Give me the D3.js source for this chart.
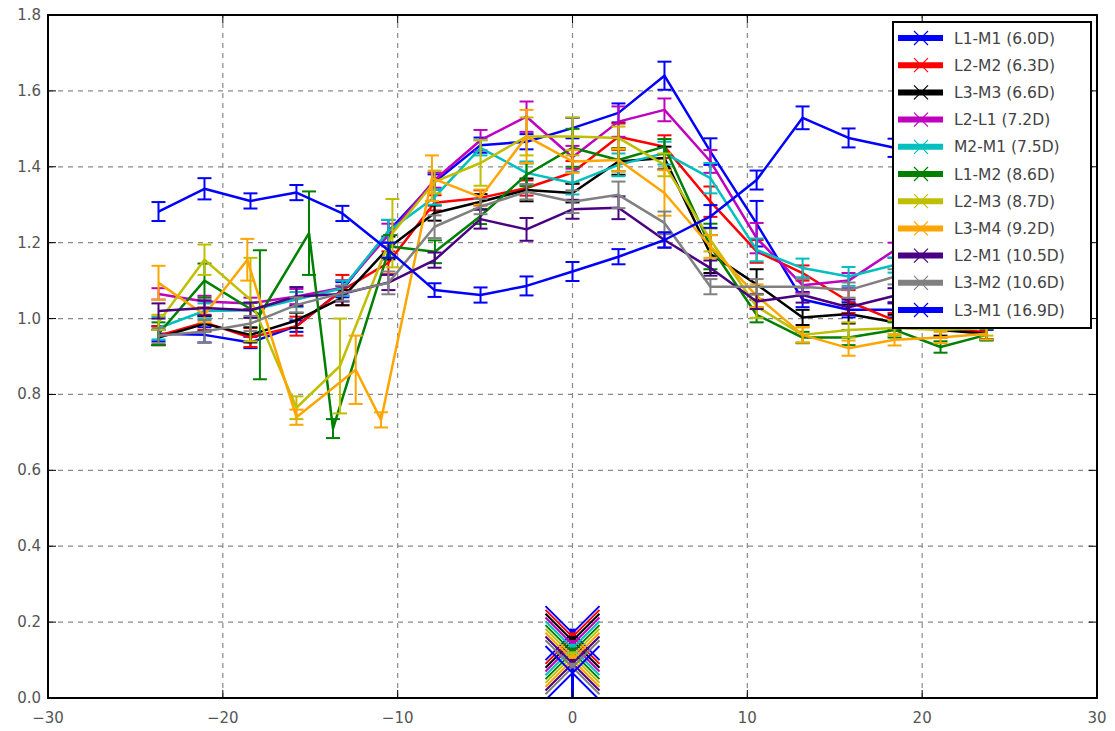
<!DOCTYPE html>
<html>
<head>
<meta charset="utf-8">
<script src="https://cdn.jsdelivr.net/npm/d3@7"></script>
<style>
  body { margin: 0; background: #fff; }
  text { font-family: "DejaVu Sans", sans-serif; }
</style>
</head>
<body>
<script>
// nominal lag positions shared by most series
var lags = [-23.68, -21.05, -18.42, -15.79, -13.16, -10.53, -7.89, -5.26, -2.63, 0,
            2.63, 5.26, 7.89, 10.53, 13.16, 15.79, 18.42, 21.05, 23.68];

// a few series were sampled off the grid in the dip region
var lagsL1M2 = [-23.68, -21.05, -17.88, -15.07, -13.7, -10.44, -7.87, -5.29, -2.63, 0,
                2.63, 5.26, 7.89, 10.53, 13.16, 15.79, 18.42, 21.05, 23.68];
var lagsL2M3 = [-23.68, -21.05, -18.42, -15.79, -13.3, -10.3, -7.89, -5.26, -2.63, 0,
                2.63, 5.26, 7.89, 10.53, 13.16, 15.79, 18.42, 21.05, 23.68];
var lagsL3M4 = [-23.68, -21.05, -18.6, -15.79, -12.4, -10.95, -8.04, -5.26, -2.63, 0,
                2.63, 5.26, 7.89, 10.53, 13.16, 15.79, 18.42, 21.05, 23.68];

var names = ["L1-M1 (6.0D)", "L2-M2 (6.3D)", "L3-M3 (6.6D)", "L2-L1 (7.2D)", "M2-M1 (7.5D)",
             "L1-M2 (8.6D)", "L2-M3 (8.7D)", "L3-M4 (9.2D)", "L2-M1 (10.5D)", "L3-M2 (10.6D)", "L3-M1 (16.9D)"];
var colors = ["#0000ff", "#ff0000", "#000000", "#bf00bf", "#00bfbf",
              "#008000", "#bfbf00", "#ffa500", "#4b0082", "#808080", "#0000ff"];

var L1M1 = [0.96, 0.957, 0.937, 0.98, 1.076, 1.23, 1.36, 1.457, 1.466, 1.502, 1.542, 1.64, 1.44, 1.25, 1.05, 1.023, 1.023, 1.0, 0.99];
var L1M1err = [0.02, 0.02, 0.015, 0.015, 0.02, 0.03, 0.02, 0.02, 0.02, 0.027, 0.025, 0.037, 0.035, 0.06, 0.02, 0.02, 0.02, 0.02, 0.02];
var L2M2 = [0.955, 0.99, 0.95, 0.98, 1.075, 1.147, 1.305, 1.318, 1.344, 1.385, 1.479, 1.453, 1.308, 1.177, 1.12, 1.045, 0.995, 0.97, 0.965];
var L2M2err = [0.025, 0.02, 0.025, 0.025, 0.04, 0.03, 0.02, 0.02, 0.02, 0.03, 0.035, 0.03, 0.04, 0.03, 0.02, 0.03, 0.02, 0.02, 0.02];
var L3M3 = [0.95, 0.986, 0.957, 0.995, 1.055, 1.186, 1.278, 1.308, 1.339, 1.331, 1.414, 1.423, 1.17, 1.09, 1.003, 1.012, 0.99, 0.97, 0.96];
var L3M3err = [0.02, 0.02, 0.02, 0.02, 0.02, 0.03, 0.02, 0.02, 0.03, 0.025, 0.035, 0.03, 0.05, 0.04, 0.02, 0.025, 0.02, 0.015, 0.015];
var L2L1 = [1.065, 1.045, 1.04, 1.058, 1.081, 1.22, 1.365, 1.47, 1.532, 1.425, 1.519, 1.55, 1.414, 1.212, 1.088, 1.1, 1.18, 1.22, 1.2];
var L2L1err = [0.015, 0.015, 0.015, 0.02, 0.02, 0.03, 0.02, 0.027, 0.04, 0.03, 0.04, 0.03, 0.03, 0.04, 0.02, 0.02, 0.02, 0.02, 0.02];
var M2M1 = [0.975, 1.02, 1.022, 1.05, 1.08, 1.23, 1.32, 1.45, 1.384, 1.357, 1.405, 1.436, 1.37, 1.181, 1.133, 1.111, 1.141, 1.17, 1.17];
var M2M1err = [0.03, 0.02, 0.02, 0.02, 0.02, 0.03, 0.02, 0.02, 0.03, 0.03, 0.03, 0.03, 0.04, 0.03, 0.025, 0.025, 0.02, 0.02, 0.02];
var L1M2 = [0.96, 1.10, 1.01, 1.225, 0.71, 1.19, 1.176, 1.269, 1.379, 1.45, 1.418, 1.453, 1.19, 1.01, 0.95, 0.95, 0.97, 0.925, 0.957];
var L1M2err = [0.03, 0.045, 0.17, 0.11, 0.025, 0.03, 0.03, 0.02, 0.03, 0.05, 0.03, 0.02, 0.06, 0.02, 0.015, 0.02, 0.02, 0.015, 0.015];
var L2M3 = [0.99, 1.155, 1.05, 0.765, 0.875, 1.225, 1.36, 1.41, 1.48, 1.48, 1.476, 1.405, 1.207, 1.032, 0.957, 0.97, 0.975, 0.97, 0.975];
var L2M3err = [0.02, 0.04, 0.11, 0.03, 0.125, 0.09, 0.03, 0.06, 0.05, 0.05, 0.03, 0.03, 0.03, 0.03, 0.02, 0.02, 0.02, 0.02, 0.02];
var L3M4 = [1.094, 1.01, 1.155, 0.74, 0.865, 0.733, 1.37, 1.32, 1.48, 1.414, 1.418, 1.331, 1.19, 1.06, 0.957, 0.922, 0.944, 0.95, 0.96];
var L3M4err = [0.045, 0.02, 0.055, 0.02, 0.09, 0.02, 0.06, 0.02, 0.07, 0.03, 0.03, 0.06, 0.03, 0.03, 0.02, 0.02, 0.015, 0.015, 0.015];
var L2M1 = [1.02, 1.028, 1.022, 1.058, 1.065, 1.095, 1.154, 1.262, 1.235, 1.288, 1.292, 1.207, 1.133, 1.045, 1.062, 1.03, 1.06, 1.07, 1.07];
var L2M1err = [0.02, 0.02, 0.02, 0.025, 0.02, 0.02, 0.02, 0.025, 0.03, 0.025, 0.03, 0.02, 0.02, 0.02, 0.02, 0.02, 0.02, 0.02, 0.02];
var L3M2 = [0.955, 0.966, 0.987, 1.036, 1.067, 1.094, 1.242, 1.295, 1.334, 1.308, 1.326, 1.252, 1.084, 1.084, 1.084, 1.075, 1.11, 1.12, 1.12];
var L3M2err = [0.02, 0.03, 0.02, 0.02, 0.02, 0.03, 0.03, 0.02, 0.02, 0.03, 0.035, 0.03, 0.02, 0.02, 0.02, 0.02, 0.02, 0.02, 0.02];
var L3M1 = [1.282, 1.342, 1.31, 1.332, 1.277, 1.18, 1.075, 1.062, 1.086, 1.124, 1.163, 1.207, 1.269, 1.365, 1.529, 1.476, 1.45, 1.42, 1.40];
var L3M1err = [0.025, 0.028, 0.02, 0.02, 0.02, 0.02, 0.018, 0.02, 0.025, 0.025, 0.02, 0.02, 0.03, 0.025, 0.03, 0.025, 0.024, 0.02, 0.02];

// the stray markers piled up at lag 0
var stubY = [0.171, 0.161, 0.151, 0.141, 0.131, 0.121, 0.111, 0.101, 0.091, 0.081, 0.066];

var xTicks = [-30, -20, -10, 0, 10, 20, 30];
var yTicks = [0, 0.2, 0.4, 0.6, 0.8, 1.0, 1.2, 1.4, 1.6, 1.8];

var ys = [L1M1, L2M2, L3M3, L2L1, M2M1, L1M2, L2M3, L3M4, L2M1, L3M2, L3M1];
var errs = [L1M1err, L2M2err, L3M3err, L2L1err, M2M1err, L1M2err, L2M3err, L3M4err, L2M1err, L3M2err, L3M1err];
var xsets = [lags, lags, lags, lags, lags, lagsL1M2, lagsL2M3, lagsL3M4, lags, lags, lags];

var series = names.map(function(n, i) {
  return {name: n, color: colors[i], stub: stubY[i],
    pts: ys[i].map(function(v, j) { return {x: xsets[i][j], y: v, e: errs[i][j]}; })};
});

var W = 1115, H = 731;
var m = {left: 48, right: 18, top: 15, bottom: 33};

var svg = d3.select("body").append("svg")
  .attr("width", W)
  .attr("height", H);

var x = d3.scaleLinear().domain([-30, 30]).range([m.left, W - m.right]);
var y = d3.scaleLinear().domain([0, 1.8]).range([H - m.bottom, m.top]);

svg.append("clipPath").attr("id", "clip")
  .append("rect")
  .attr("x", m.left).attr("y", m.top)
  .attr("width", W - m.left - m.right).attr("height", H - m.top - m.bottom);

// grid
var grid = svg.append("g");
grid.selectAll(".gx").data(xTicks.slice(1, -1)).enter().append("line")
  .attr("x1", function(d) { return x(d); }).attr("x2", function(d) { return x(d); })
  .attr("y1", y(0)).attr("y2", y(1.8))
  .attr("stroke", "#8a8a8a").attr("stroke-width", 1.2).attr("stroke-dasharray", "5,5");
grid.selectAll(".gy").data(yTicks.slice(1, -1)).enter().append("line")
  .attr("y1", function(d) { return y(d); }).attr("y2", function(d) { return y(d); })
  .attr("x1", x(-30)).attr("x2", x(30))
  .attr("stroke", "#8a8a8a").attr("stroke-width", 1.2).attr("stroke-dasharray", "5,5");

var plot = svg.append("g").attr("clip-path", "url(#clip)");
var line = d3.line().x(function(d) { return x(d.x); }).y(function(d) { return y(d.y); });

series.forEach(function(s) {
  var g = plot.append("g");
  g.append("path").datum(s.pts)
    .attr("d", line)
    .attr("fill", "none")
    .attr("stroke", s.color)
    .attr("stroke-width", 2.5)
    .attr("stroke-linejoin", "round");
  var bars = g.selectAll(".eb").data(s.pts).enter().append("g");
  bars.append("line")
    .attr("x1", function(d) { return x(d.x); }).attr("x2", function(d) { return x(d.x); })
    .attr("y1", function(d) { return y(d.y - d.e); }).attr("y2", function(d) { return y(d.y + d.e); })
    .attr("stroke", s.color).attr("stroke-width", 2);
  [-1, 1].forEach(function(sg) {
    bars.append("line")
      .attr("x1", function(d) { return x(d.x) - 7; }).attr("x2", function(d) { return x(d.x) + 7; })
      .attr("y1", function(d) { return y(d.y + sg * d.e); }).attr("y2", function(d) { return y(d.y + sg * d.e); })
      .attr("stroke", s.color).attr("stroke-width", 2);
  });
});

// big x markers at lag 0
series.forEach(function(s, i) {
  var cx = x(0), cy = y(s.stub), r = 27;
  var g = plot.append("g");
  g.append("path")
    .attr("d", "M" + (cx - r) + "," + (cy - r) + "L" + (cx + r) + "," + (cy + r) +
               "M" + (cx - r) + "," + (cy + r) + "L" + (cx + r) + "," + (cy - r))
    .attr("stroke", s.color).attr("stroke-width", 2).attr("fill", "none");
  var e = i === series.length - 1 ? s.stub : 0.012;
  g.append("line")
    .attr("x1", cx).attr("x2", cx)
    .attr("y1", y(s.stub - e)).attr("y2", y(s.stub + 0.012))
    .attr("stroke", s.color).attr("stroke-width", i === series.length - 1 ? 3 : 6);
});

// ticks (inward, all four sides)
var tk = svg.append("g").attr("stroke", "#000").attr("stroke-width", 1);
xTicks.forEach(function(t) {
  tk.append("line").attr("x1", x(t)).attr("x2", x(t)).attr("y1", y(0)).attr("y2", y(0) - 8);
  tk.append("line").attr("x1", x(t)).attr("x2", x(t)).attr("y1", y(1.8)).attr("y2", y(1.8) + 8);
});
yTicks.forEach(function(t) {
  tk.append("line").attr("y1", y(t)).attr("y2", y(t)).attr("x1", x(-30)).attr("x2", x(-30) + 8);
  tk.append("line").attr("y1", y(t)).attr("y2", y(t)).attr("x1", x(30)).attr("x2", x(30) - 8);
});

svg.append("rect")
  .attr("x", m.left).attr("y", m.top)
  .attr("width", W - m.left - m.right).attr("height", H - m.top - m.bottom)
  .attr("fill", "none").attr("stroke", "#000").attr("stroke-width", 2);

// tick labels
svg.append("g").selectAll("text").data(xTicks).enter().append("text")
  .attr("x", function(d) { return x(d); })
  .attr("y", H - m.bottom + 25)
  .attr("text-anchor", "middle")
  .attr("fill", "#555").attr("font-size", 15)
  .text(function(d) { return d < 0 ? "\u2212" + Math.abs(d) : d; });
svg.append("g").selectAll("text").data(yTicks).enter().append("text")
  .attr("x", m.left - 7)
  .attr("y", function(d) { return y(d) + 5; })
  .attr("text-anchor", "end")
  .attr("fill", "#555").attr("font-size", 15)
  .text(function(d) { return d.toFixed(1); });

// legend
var lg = svg.append("g").attr("transform", "translate(893,22)");
lg.append("rect").attr("width", 198).attr("height", 306)
  .attr("fill", "#fff").attr("stroke", "#000").attr("stroke-width", 2);
var item = lg.selectAll(".it").data(series).enter().append("g")
  .attr("transform", function(d, i) { return "translate(0," + (16 + i * 27.2) + ")"; });
item.append("line").attr("x1", 5).attr("x2", 50).attr("y1", 0).attr("y2", 0)
  .attr("stroke", function(d) { return d.color; }).attr("stroke-width", 6);
item.append("path").attr("d", "M21,-7L35,7M21,7L35,-7")
  .attr("stroke", function(d) { return d.color; }).attr("stroke-width", 1.2).attr("fill", "none");
item.append("text").attr("x", 61).attr("y", 5.5)
  .attr("fill", "#444").attr("font-size", 15.5)
  .text(function(d) { return d.name; });
</script>
</body>
</html>
